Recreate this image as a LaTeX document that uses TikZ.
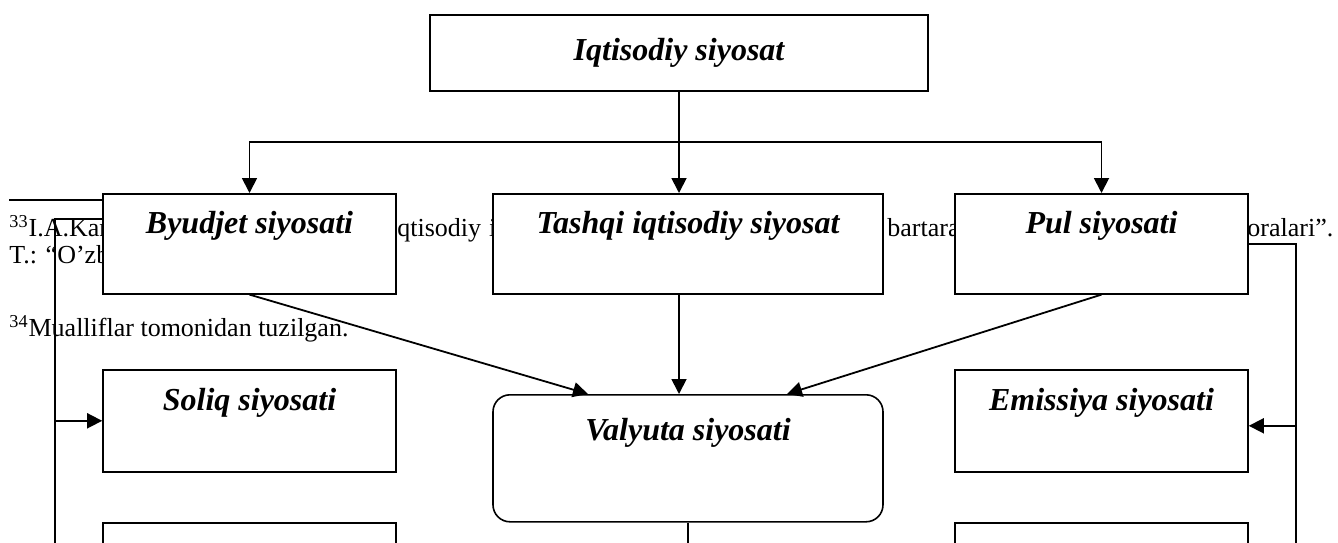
\documentclass[tikz,border=0pt]{standalone}
\usepackage{fontspec}
\setmainfont{Liberation Serif}
\usetikzlibrary{arrows.meta, positioning}

\tikzset{
	policy/.style={draw, line width=0.8pt, fill=white, anchor=north, minimum width=146.5pt, minimum height=50pt, text height=10pt, text depth=20pt, inner sep=0pt, font=\bfseries\itshape\fontsize{16}{19}\selectfont},
	link/.style={line width=0.9pt, -{Triangle[length=7.5pt,width=7.5pt]}},
	note/.style={anchor=base west, inner sep=0pt, font=\fontsize{13}{15}\selectfont},
}

\begin{document}
\begin{tikzpicture}[x=0.5pt, y=-0.5pt]
	\useasboundingbox (0,0) rectangle (1338,542);
	\clip (0,0) rectangle (1338,542);
	\node[note] (fna) at (9,236) {\textsuperscript{33}I.A.Kar};
	\node[note] (fnb) at (397,236) {qtisodiy\hspace{4pt}i};
	\node[note] (fnc) at (887,236) {bartara};
	\node[note] (fnd) at (1247,236) {oralari”.};
	\node[note] (fne) at (9,263) {T.: “O’zb};
	\node[note] (fnf) at (9,336) {\textsuperscript{34}Mualliflar tomonidan tuzilgan.};
	\draw[line width=0.9pt] (9,200) -- (160,200);

	\node[policy, minimum width=249pt, minimum height=38pt, text height=, text depth=] (iqt) at (679,14) {Iqtisodiy siyosat};
	\node[policy] (byu) at (249.5,193) {Byudjet siyosati};
	\node[policy, minimum width=195pt] (tas) at (688,193) {Tashqi iqtisodiy siyosat};
	\node[policy] (pul) at (1101.5,193) {Pul siyosati};
	\node[policy, minimum height=51pt] (sol) at (249.5,369) {Soliq siyosati};
	\node[policy, minimum height=51pt] (emi) at (1101.5,369) {Emissiya siyosati};
	\node[policy, rounded corners=8.5pt, minimum width=195pt, minimum height=63.5pt, text depth=27.5pt] (val) at (688,394) {Valyuta siyosati};
	\node[policy, minimum height=51pt] (bl) at (249.5,522) {};
	\node[policy, minimum height=51pt] (br) at (1101.5,522) {};

	\coordinate (split) at (679,142);
	\coordinate (lbot) at (55,560);
	\coordinate (rbot) at (1296,560);
	\draw[link] (iqt.south) -- (iqt.south |- tas.north);
	\draw[link] (split) -| (byu.north);
	\draw[link] (split) -| (pul.north);
	\draw[link] (byu.south) -- ([xshift=-50pt]val.north);
	\draw[link] (iqt.south |- tas.south) -- (iqt.south |- val.north);
	\draw[link] (pul.south) -- ([xshift=49.5pt]val.north);
	\draw[line width=0.8pt] ([yshift=12.5pt]byu.west) -| (lbot);
	\draw[link] (lbot |- sol.west) -- (sol.west);
	\draw[line width=0.8pt] (pul.east) -| (rbot);
	\draw[link] ([yshift=-2.5pt]emi.east -| rbot) -- ([yshift=-2.5pt]emi.east);
	\draw[line width=0.8pt] (val.south) -- (val.south |- lbot);
\end{tikzpicture}
\end{document}
